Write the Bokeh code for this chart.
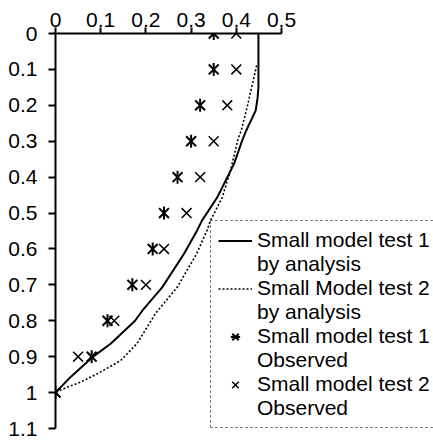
import math
from bokeh.plotting import figure
from bokeh.models import (Range1d, LinearAxis, FixedTicker, CustomJSTickFormatter,
                          Legend, LegendItem, ColumnDataSource)
from bokeh.embed import file_html
from bokeh.resources import INLINE

# ---- data ----
obs_depth = [0.0, 0.1, 0.2, 0.3, 0.4, 0.5, 0.6, 0.7, 0.8, 0.9, 1.0]
test1_obs = [0.35, 0.35, 0.32, 0.30, 0.27, 0.24, 0.215, 0.17, 0.115, 0.08, 0.0]
test2_obs = [0.40, 0.40, 0.38, 0.35, 0.32, 0.29, 0.24, 0.20, 0.13, 0.05, 0.0]

test1_an_depth = [0.0, 0.15, 0.18, 0.214, 0.27, 0.298, 0.363, 0.456, 0.521, 0.549,
                  0.614, 0.707, 0.772, 0.8, 0.864, 0.902, 0.957, 1.0]
test1_an_x = [0.449, 0.449, 0.447, 0.443, 0.422, 0.413, 0.395, 0.358, 0.324, 0.313,
              0.284, 0.236, 0.192, 0.176, 0.122, 0.081, 0.033, 0.0]

test2_an_depth = [0.089, 0.205, 0.27, 0.293, 0.382, 0.456, 0.521, 0.549, 0.614, 0.707,
                  0.78, 0.813, 0.864, 0.911, 0.948, 0.971, 0.989, 1.0]
test2_an_x = [0.445, 0.424, 0.411, 0.404, 0.387, 0.369, 0.343, 0.335, 0.312, 0.269,
              0.221, 0.205, 0.180, 0.144, 0.092, 0.055, 0.018, 0.0]

x_ticks = [0.0, 0.1, 0.2, 0.3, 0.4, 0.5]
y_ticks = [0.0, 0.1, 0.2, 0.3, 0.4, 0.5, 0.6, 0.7, 0.8, 0.9, 1.0, 1.1]

legend_lines = [("Small model test 1", "by analysis"),
                ("Small Model test 2", "by analysis"),
                ("Small model test 1", "Observed"),
                ("Small model test 2", "Observed")]

FONT = "Liberation Sans"
FS = "21px"

W, H = 433, 445
left, top, bottom = 55, 33, 17
frame_w = W - left
x_end = 0.5 * frame_w / 226.0

p = figure(width=W, height=H, output_backend="svg", toolbar_location=None,
           x_range=Range1d(0, x_end), y_range=Range1d(1.1, 0),
           x_axis_location=None, y_axis_location=None,
           min_border_left=left, min_border_right=0, min_border_top=top,
           min_border_bottom=bottom)
p.grid.visible = False
p.outline_line_color = None
p.background_fill_color = "white"
p.border_fill_color = "white"

fmt = CustomJSTickFormatter(code="return String(Math.round(tick*10)/10);")

xa = LinearAxis(ticker=FixedTicker(ticks=x_ticks), formatter=fmt, bounds=(0, 0.5))
ya = LinearAxis(ticker=FixedTicker(ticks=y_ticks), formatter=fmt, bounds=(0, 1.1))
for ax in (xa, ya):
    ax.axis_line_width = 2
    ax.axis_line_color = "black"
    ax.major_tick_line_width = 2
    ax.major_tick_line_color = "black"
    ax.major_tick_in = 0
    ax.minor_tick_line_color = None
    ax.major_label_text_font = FONT
    ax.major_label_text_font_size = FS
    ax.major_label_text_color = "black"
xa.major_tick_out = 6
xa.major_label_standoff = 1
ya.major_tick_out = 7
ya.major_label_standoff = 11
p.add_layout(xa, "above")
p.add_layout(ya, "left")

r1 = p.line(test1_an_x, test1_an_depth, line_color="black", line_width=2)
r2 = p.line(test2_an_x, test2_an_depth, line_color="black", line_width=1.6,
            line_dash="2 2")

src1 = ColumnDataSource(dict(x=test1_obs, y=obs_depth))
r3a = p.scatter("x", "y", source=src1, marker="x", size=14, line_color="black",
                line_width=2)
r3b = p.scatter("x", "y", source=src1, marker="dash", size=13, angle=math.pi / 2,
                line_color="black", line_width=2)
r4 = p.scatter(test2_obs, obs_depth, marker="x", size=14, line_color="black",
               line_width=1.5)

blank = p.line(x=[], y=[], line_alpha=0)

glyph_sets = [[r1], [r2], [r3a, r3b], [r4]]
items = []
for (l1, l2), rs in zip(legend_lines, glyph_sets):
    items.append(LegendItem(label=l1, renderers=rs))
    items.append(LegendItem(label=l2, renderers=[blank]))

legend = Legend(items=items, location=(155, 0), orientation="vertical")
legend.label_text_font = FONT
legend.label_text_font_size = FS
legend.label_text_color = "black"
legend.label_height = 23
legend.glyph_width = 34
legend.glyph_height = 23
legend.label_standoff = 5
legend.padding = 7
legend.spacing = 0
legend.margin = 0
legend.border_line_color = "black"
legend.border_line_dash = "1 1"
legend.border_line_width = 1
legend.background_fill_alpha = 0
p.add_layout(legend, "center")

open("out.html", "w").write(file_html(p, INLINE))
